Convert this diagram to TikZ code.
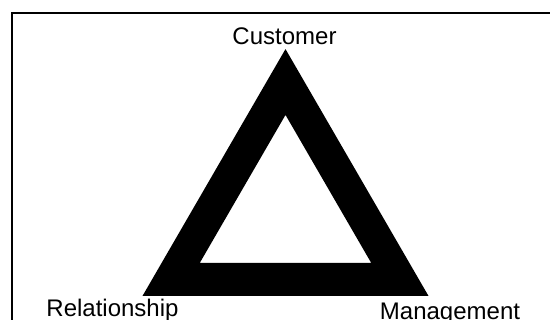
\documentclass[tikz,border=0pt]{standalone}
\usepackage{fontspec}
\setmainfont{Liberation Sans}

\begin{document}
\begin{tikzpicture}[x=1pt, y=-1pt, tag/.style={anchor=base, inner sep=0pt, font=\fontsize{24}{28}\selectfont}]
			\useasboundingbox (0,0) rectangle (550,320);
			\clip (0,0) rectangle (550,320);
			\draw[line width=1.6pt] (11.7,13.3) rectangle (570,340);
			\node[shape=coordinate] (top)   at (285.5, 82.0) {};
			\node[shape=coordinate] (left)  at (171.1,279.5) {};
			\node[shape=coordinate] (right) at (399.9,279.5) {};
			\draw[line width=33pt, line join=miter] (top) -- (left) -- (right) -- cycle;
			\node[tag] (customer) at (284.5, 45) {Customer};
			\node[tag] (relationship) at (112.5,317) {Relationship};
			\node[tag] (management) at (450,320) {Management};
		\end{tikzpicture}
\end{document}
